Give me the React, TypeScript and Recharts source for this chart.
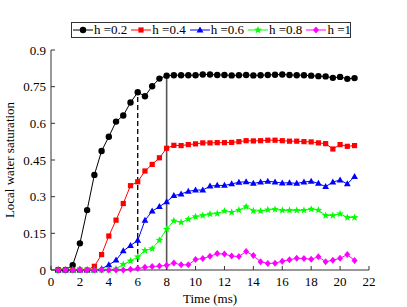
import React from 'react';
import { LineChart, Line, XAxis, YAxis, ReferenceLine, Legend } from 'recharts';

// time in ms, one sample every 0.5 ms
const time = [
  0.5, 1, 1.5, 2, 2.5, 3, 3.5, 4, 4.5, 5,
  5.5, 6, 6.5, 7, 7.5, 8, 8.5, 9, 9.5, 10,
  10.5, 11, 11.5, 12, 12.5, 13, 13.5, 14, 14.5, 15,
  15.5, 16, 16.5, 17, 17.5, 18, 18.5, 19, 19.5, 20,
  20.5, 21,
];

const h02 = [
  0, 0, 0.02, 0.109, 0.245, 0.389, 0.487, 0.545, 0.607, 0.632,
  0.685, 0.727, 0.711, 0.752, 0.783, 0.795, 0.797, 0.797, 0.797, 0.797,
  0.8, 0.8, 0.798, 0.798, 0.796, 0.797, 0.798, 0.796, 0.797, 0.798,
  0.799, 0.8, 0.798, 0.797, 0.797, 0.795, 0.793, 0.792, 0.786, 0.79,
  0.782, 0.785,
];

const h04 = [
  0, 0, 0, 0, 0, 0.015, 0.063, 0.139, 0.204, 0.272,
  0.345, 0.361, 0.405, 0.432, 0.459, 0.498, 0.51, 0.509, 0.513, 0.516,
  0.52, 0.52, 0.521, 0.521, 0.522, 0.525, 0.529, 0.528, 0.529, 0.531,
  0.531, 0.529, 0.527, 0.527, 0.525, 0.524, 0.52, 0.517, 0.495, 0.513,
  0.506, 0.509,
];

const h06 = [
  0, 0, 0, 0, 0, 0, 0.005, 0.021, 0.04, 0.078,
  0.1, 0.121, 0.203, 0.241, 0.259, 0.279, 0.304, 0.311, 0.322, 0.327,
  0.327, 0.343, 0.346, 0.346, 0.352, 0.359, 0.361, 0.354, 0.36, 0.363,
  0.36, 0.356, 0.357, 0.354, 0.36, 0.363, 0.354, 0.341, 0.36, 0.368,
  0.352, 0.382,
];

const h08 = [
  0, 0, 0, 0, 0, 0, 0, 0, 0.005, 0.023,
  0.037, 0.054, 0.08, 0.087, 0.122, 0.167, 0.201, 0.195, 0.208, 0.218,
  0.223, 0.229, 0.231, 0.241, 0.236, 0.245, 0.259, 0.242, 0.241, 0.246,
  0.248, 0.244, 0.244, 0.244, 0.244, 0.249, 0.245, 0.223, 0.223, 0.23,
  0.215, 0.215,
];

const h1 = [
  0, 0, 0, 0, 0, 0, 0, 0, 0, 0,
  0.003, 0.006, 0.011, 0.014, 0.016, 0.019, 0.029, 0.021, 0.021, 0.043,
  0.047, 0.056, 0.067, 0.065, 0.057, 0.055, 0.076, 0.059, 0.034, 0.027,
  0.028, 0.036, 0.042, 0.048, 0.047, 0.044, 0.054, 0.034, 0.04, 0.048,
  0.063, 0.039,
];

const xTicks = [0, 2, 4, 6, 8, 10, 12, 14, 16, 18, 20, 22];
const yTicks = [0, 0.15, 0.3, 0.45, 0.6, 0.75, 0.9];

// where the dashed / solid guide lines stop
const dashedAt = { t: 6, v: 0.727 };
const solidAt = { t: 8, v: 0.795 };

const series = [
  { key: 'h02', name: 'h =0.2', color: '#000000', shape: 'circle', values: h02 },
  { key: 'h04', name: 'h =0.4', color: '#ff0000', shape: 'square', values: h04 },
  { key: 'h06', name: 'h =0.6', color: '#0000ff', shape: 'triangle', values: h06 },
  { key: 'h08', name: 'h =0.8', color: '#00ff00', shape: 'star', values: h08 },
  { key: 'h1', name: 'h =1', color: '#ff00ff', shape: 'diamond', values: h1 },
];

const data = time.map((t, i) => {
  const row: Record<string, number> = { t };
  series.forEach((s) => {
    row[s.key] = s.values[i];
  });
  return row;
});

const FONT = '"Liberation Serif", "Times New Roman", serif';
const AXIS = '#333333';

function starPoints(x: number, y: number, ro: number, ri: number) {
  const pts: string[] = [];
  for (let k = 0; k < 10; k++) {
    const r = k % 2 === 0 ? ro : ri;
    const a = -Math.PI / 2 + (k * Math.PI) / 5;
    pts.push(`${x + r * Math.cos(a)},${y + r * Math.sin(a)}`);
  }
  return pts.join(' ');
}

function Marker({ shape, x, y, color }: { shape: string; x: number; y: number; color: string }) {
  switch (shape) {
    case 'circle':
      return <circle cx={x} cy={y} r={3.2} fill={color} />;
    case 'square':
      return <rect x={x - 2.6} y={y - 2.6} width={5.2} height={5.2} fill={color} />;
    case 'triangle':
      return <polygon points={`${x},${y - 3.6} ${x + 3.4},${y + 2.4} ${x - 3.4},${y + 2.4}`} fill={color} />;
    case 'star':
      return <polygon points={starPoints(x, y, 4, 1.7)} fill={color} />;
    default:
      return <polygon points={`${x},${y - 3.5} ${x + 3},${y} ${x},${y + 3.5} ${x - 3},${y}`} fill={color} />;
  }
}

const renderLegend = () => (
  <div
    style={{
      border: `1px solid ${AXIS}`,
      height: 16,
      boxSizing: 'border-box',
      display: 'flex',
      alignItems: 'center',
      padding: '0 1px',
      background: '#fff',
      fontFamily: FONT,
      fontSize: 13,
      color: '#000',
      whiteSpace: 'nowrap',
    }}
  >
    {series.map((s) => (
      <div key={s.key} style={{ display: 'flex', alignItems: 'center', marginRight: 4 }}>
        <svg width={20} height={10}>
          <line x1={0} y1={5} x2={20} y2={5} stroke={s.color} strokeWidth={1} />
          <Marker shape={s.shape} x={10} y={5} color={s.color} />
        </svg>
        <span style={{ marginLeft: 1, lineHeight: '14px' }}>{s.name}</span>
      </div>
    ))}
  </div>
);

export default function App() {
  const tickStyle = { fontFamily: FONT, fontSize: 13, fill: '#000' };
  return (
    <div style={{ position: 'absolute', left: 0, top: 0, width: 407, height: 307, background: '#fff' }}>
      <LineChart width={407} height={307} data={data} margin={{ top: 50, right: 38, left: 0, bottom: 0 }}>
        <XAxis
          dataKey="t"
          type="number"
          domain={[0, 22]}
          ticks={xTicks}
          height={37}
          stroke={AXIS}
          tickSize={-4}
          tickMargin={11}
          tick={tickStyle}
          label={{ value: 'Time (ms)', position: 'insideBottom', offset: 4, style: { fontFamily: FONT, fontSize: 13, fill: '#000' } }}
        />
        <XAxis xAxisId="top" orientation="top" type="number" domain={[0, 22]} ticks={xTicks} height={0} stroke={AXIS} tickSize={-4} tick={false} />
        <YAxis
          type="number"
          domain={[0, 0.9]}
          ticks={yTicks}
          width={51}
          stroke={AXIS}
          tickSize={-4}
          tickMargin={9}
          tick={tickStyle}
          label={{ value: 'Local water saturation', angle: -90, position: 'insideLeft', offset: 9, style: { fontFamily: FONT, fontSize: 13, fill: '#000', textAnchor: 'middle' } }}
        />
        <YAxis yAxisId="right" orientation="right" type="number" domain={[0, 0.9]} ticks={yTicks} width={0} stroke={AXIS} tickSize={-4} tick={false} />
        <Legend verticalAlign="middle" align="center" layout="horizontal" content={renderLegend} wrapperStyle={{ top: 22, left: 71, width: 280, height: 16 }} />
        <ReferenceLine
          segment={[{ x: dashedAt.t, y: 0 }, { x: dashedAt.t, y: dashedAt.v }]}
          stroke="#000"
          strokeWidth={1.3}
          strokeDasharray="5 3"
        />
        <ReferenceLine
          segment={[{ x: solidAt.t, y: 0 }, { x: solidAt.t, y: solidAt.v }]}
          stroke="#555"
          strokeWidth={1.6}
        />
        {series.map((s) => (
          <Line
            key={s.key}
            dataKey={s.key}
            name={s.name}
            type="linear"
            stroke={s.color}
            strokeWidth={1}
            isAnimationActive={false}
            dot={(p: any) => (
              <g key={`${s.key}-${p.index}`}>
                <Marker shape={s.shape} x={p.cx} y={p.cy} color={s.color} />
              </g>
            )}
            activeDot={false}
          />
        ))}
      </LineChart>
    </div>
  );
}
